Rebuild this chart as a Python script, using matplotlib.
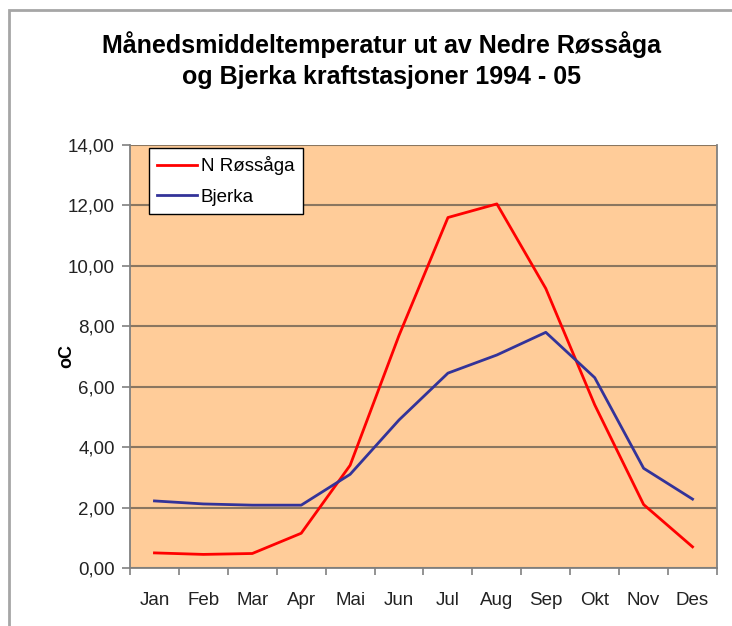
import matplotlib
matplotlib.use("Agg")
import matplotlib.pyplot as plt
from matplotlib.patches import Rectangle
from matplotlib.ticker import FixedLocator, FuncFormatter

plt.rcParams['font.family'] = ['Liberation Sans', 'DejaVu Sans']

months = ['Jan', 'Feb', 'Mar', 'Apr', 'Mai', 'Jun', 'Jul', 'Aug', 'Sep', 'Okt', 'Nov', 'Des']
n_rossaga = [0.50, 0.45, 0.48, 1.15, 3.40, 7.70, 11.60, 12.05, 9.25, 5.40, 2.10, 0.70]
bjerka = [2.22, 2.12, 2.08, 2.08, 3.10, 4.90, 6.45, 7.05, 7.80, 6.30, 3.30, 2.28]

fig = plt.figure(figsize=(7.32, 6.26), dpi=100)
fig.patch.set_facecolor('white')

# outer chart border
fig.patches.append(Rectangle((9 / 732, -0.05), 1.2, (626 - 10) / 626 + 0.05,
                             transform=fig.transFigure, fill=False,
                             edgecolor='#a6a6a6', linewidth=2))

ax = fig.add_axes([130 / 732, 58 / 626, 587 / 732, 423 / 626])
ax.set_facecolor('#FFCC99')

x = list(range(len(months)))
ax.plot(x, n_rossaga, color='#FF0000', linewidth=2, label='N Røssåga')
ax.plot(x, bjerka, color='#333399', linewidth=2, label='Bjerka')

ax.set_xlim(-0.5, len(months) - 0.5)
ax.set_ylim(0, 14)
ax.set_yticks(range(0, 15, 2))
ax.yaxis.set_major_formatter(FuncFormatter(lambda v, p: f'{v:.2f}'.replace('.', ',')))
ax.yaxis.grid(True, color='#8a7660', linewidth=1.5)
ax.set_axisbelow(True)

ax.set_xticks(x)
ax.set_xticklabels(months)
ax.xaxis.set_minor_locator(FixedLocator([i - 0.5 for i in range(len(months) + 1)]))
ax.tick_params(axis='x', which='major', length=0, pad=17, labelsize=13.5, colors='#222222')
ax.tick_params(axis='x', which='minor', length=5, width=1.2, color='#808080', direction='out')
ax.tick_params(axis='y', length=6, width=1.2, color='#808080', labelsize=13.5,
               labelcolor='#222222', pad=5)

for side in ['left', 'bottom', 'right']:
    ax.spines[side].set_color('#808080')
    ax.spines[side].set_linewidth(1.3)
ax.spines['top'].set_visible(False)

ax.set_ylabel('oC', fontsize=13, fontweight='bold')
ax.yaxis.set_label_coords((75 - 130) / 587, 0.5)

leg = ax.legend(loc='upper left', bbox_to_anchor=(149 / 732, 1 - 148 / 626),
                bbox_transform=fig.transFigure, fancybox=False, framealpha=1,
                edgecolor='black', fontsize=13.5, handlelength=2.1, handletextpad=0.2,
                borderpad=0.45, labelspacing=0.7, borderaxespad=0)
leg.get_frame().set_linewidth(1.0)

fig.text(381 / 732, 1 - 45 / 626, 'Månedsmiddeltemperatur ut av Nedre Røssåga',
         ha='center', va='center', fontsize=18, fontweight='bold')
fig.text(381 / 732, 1 - 77 / 626, 'og Bjerka kraftstasjoner 1994 - 05',
         ha='center', va='center', fontsize=18, fontweight='bold')

fig.savefig('out.png', dpi=100)
